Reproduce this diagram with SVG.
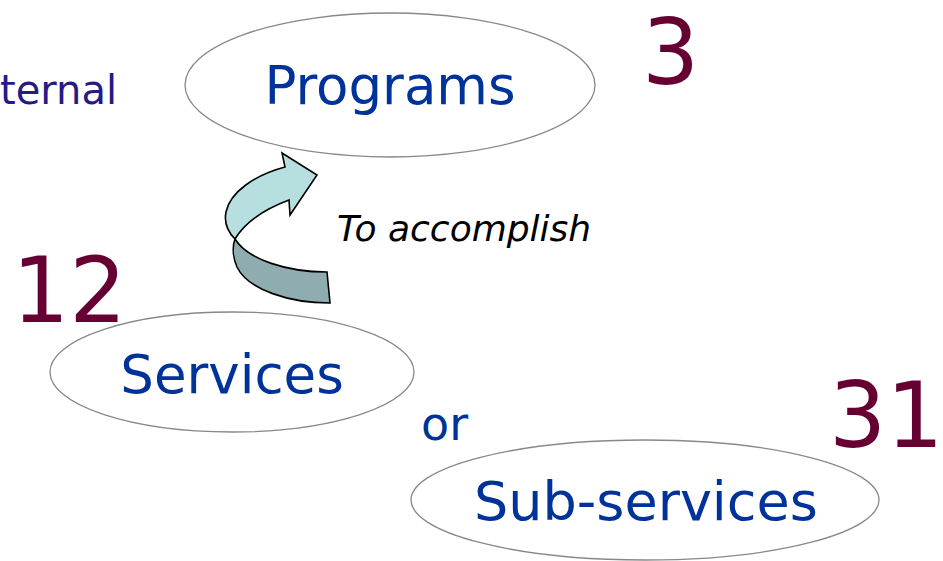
<svg xmlns="http://www.w3.org/2000/svg" width="943" height="561" viewBox="0 0 943 561">
<style>
.node ellipse{fill:#fff;stroke:#888;stroke-width:1.3}
.lbl{font-family:"DejaVu Sans",Verdana,sans-serif;fill:#003399;font-size:53px}
.num{font-family:"DejaVu Sans",Verdana,sans-serif;fill:#660033;font-size:90px}
.arr{stroke:#000;stroke-width:1.6;stroke-linejoin:miter}
</style>
<rect width="943" height="561" fill="#fff"/>
<text x="0" y="104" style="font-family:'DejaVu Sans',Verdana,sans-serif;font-size:40px;fill:#261a86">ternal</text>
<g id="programs" class="node">
<ellipse cx="390" cy="85" rx="205" ry="72"/>
<text class="lbl" x="390" y="104" text-anchor="middle">Programs</text>
</g>
<g id="services" class="node">
<ellipse cx="232" cy="372" rx="182" ry="60"/>
<text class="lbl" x="232" y="393" text-anchor="middle">Services</text>
</g>
<g id="subservices" class="node">
<ellipse cx="645" cy="500" rx="234" ry="60"/>
<text class="lbl" x="646" y="520" text-anchor="middle" style="font-size:54px">Sub-services</text>
</g>
<text class="num" x="642" y="84">3</text>
<text class="num" x="12" y="322">12</text>
<text class="num" x="829" y="447">31</text>
<text x="421" y="440" style="font-family:'DejaVu Sans',Verdana,sans-serif;font-size:46px;fill:#003399">or</text>
<g id="connectors">
<path class="arr" fill="#b8dfe0" d="M285,167 L282,153 L317,175 L290,215 L289,200 C265,209 245,222 235,239 C228,232 224,222 226,212 C230,192 255,175 285,167 Z"/>
<path class="arr" fill="#8fadb0" d="M235,239 C248,260 288,272 327,272 L330,303 C290,303 248,290 237,267 C233,258 232,247 235,239 Z"/>
<text x="337" y="241" style="font-family:'DejaVu Sans',Verdana,sans-serif;font-style:italic;font-size:36px;fill:#000">To accomplish</text>
</g>
</svg>
